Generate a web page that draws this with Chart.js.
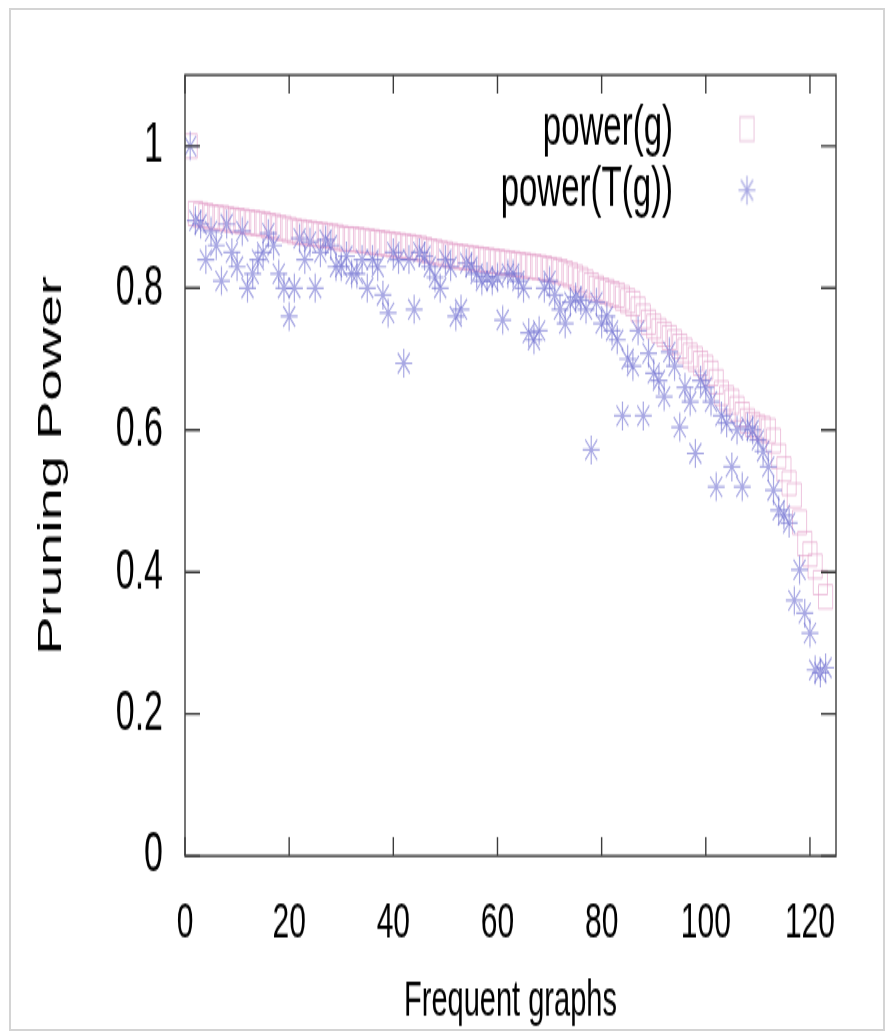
<!DOCTYPE html>
<html>
<head>
<meta charset="utf-8">
<script src="https://cdn.jsdelivr.net/npm/chart.js@4"></script>
<style>
    body { margin: 0; background: #fff; overflow: hidden; }
    #frame { position: absolute; left: 9px; top: 8px; width: 872px; height: 1019px; border: 2px solid #d4d4d4; }
    /* the source figure is stretched vertically, so the canvas is too */
    #wrap { position: absolute; left: 0; top: 0; width: 887px; height: 606px; transform: scaleY(1.7013); transform-origin: 0 0; }
</style>
</head>
<body>
<div id="frame"></div>
<div id="wrap"><canvas id="pruneChart" width="887" height="606"></canvas></div>
<script>
// power(g), one value per frequent graph (sorted)
const powerG = [
    1.00,
    0.905, 0.903, 0.902, 0.900, 0.899, 0.899, 0.897, 0.896, 0.895,
    0.894, 0.893, 0.892, 0.891, 0.890, 0.888, 0.887, 0.885, 0.884, 0.882,
    0.880, 0.879, 0.878, 0.877, 0.876, 0.875, 0.874, 0.873, 0.872, 0.870,
    0.869, 0.869, 0.868, 0.867, 0.866, 0.865, 0.864, 0.863, 0.862, 0.861,
    0.860, 0.859, 0.858, 0.857, 0.856, 0.854, 0.852, 0.851, 0.849, 0.848,
    0.846, 0.845, 0.844, 0.843, 0.842, 0.841, 0.840, 0.839, 0.838, 0.837,
    0.836, 0.835, 0.834, 0.833, 0.832, 0.831, 0.830, 0.829, 0.828, 0.826,
    0.825, 0.823, 0.821, 0.818, 0.815, 0.812, 0.808, 0.804, 0.800, 0.797,
    0.795, 0.792, 0.790, 0.786, 0.782, 0.778, 0.770, 0.760, 0.752, 0.746,
    0.740, 0.735, 0.730, 0.724, 0.718, 0.712, 0.705, 0.700, 0.694, 0.688,
    0.680, 0.668, 0.652, 0.645, 0.640, 0.630, 0.622, 0.613, 0.608, 0.604,
    0.602, 0.599, 0.585, 0.563, 0.545, 0.525, 0.508, 0.470, 0.440, 0.425,
    0.408, 0.385, 0.365
];
// power(T(g)) for the same graphs
const powerTG = [
    1.00,
    0.895, 0.890, 0.840, 0.880, 0.860, 0.810, 0.890, 0.850, 0.830,
    0.880, 0.800, 0.820, 0.840, 0.850, 0.877, 0.860, 0.820, 0.800, 0.760,
    0.800, 0.870, 0.840, 0.865, 0.800, 0.850, 0.868, 0.860, 0.830, 0.830,
    0.845, 0.820, 0.820, 0.840, 0.800, 0.840, 0.830, 0.790, 0.765, 0.850,
    0.840, 0.694, 0.840, 0.770, 0.850, 0.845, 0.830, 0.815, 0.800, 0.840,
    0.830, 0.760, 0.770, 0.835, 0.830, 0.820, 0.810, 0.816, 0.810, 0.815,
    0.755, 0.820, 0.820, 0.810, 0.800, 0.737, 0.727, 0.740, 0.800, 0.810,
    0.790, 0.770, 0.750, 0.780, 0.787, 0.783, 0.770, 0.572, 0.780, 0.750,
    0.760, 0.740, 0.727, 0.620, 0.700, 0.690, 0.740, 0.620, 0.708, 0.680,
    0.670, 0.647, 0.710, 0.690, 0.604, 0.660, 0.640, 0.567, 0.670, 0.660,
    0.640, 0.520, 0.620, 0.610, 0.548, 0.600, 0.520, 0.604, 0.600, 0.586,
    0.570, 0.548, 0.515, 0.487, 0.480, 0.469, 0.360, 0.403, 0.342, 0.314,
    0.262, 0.258, 0.265
];
const seriesNames = ['power(g)', 'power(T(g))'];
const xTicks = [0, 20, 40, 60, 80, 100, 120];
const yTicks = [0, 0.2, 0.4, 0.6, 0.8, 1];

const SANS = '"Liberation Sans", Arial, sans-serif';
const squareColor = 'rgba(226,158,200,0.6)';
const starColor = 'rgba(110,110,208,0.6)';

// graph number on the x axis
const toPoints = values => values.map((v, i) => ({x: i + 1, y: v}));

// little canvases used as legend samples
const makeMarker = (style, radius, color) => {
    const c = document.createElement('canvas');
    c.width = c.height = Math.ceil(radius * 2 + 4);
    const g = c.getContext('2d');
    g.strokeStyle = color;
    g.fillStyle = 'rgba(0,0,0,0)';
    g.lineWidth = 1.2;
    Chart.helpers.drawPoint(g, {pointStyle: style, radius: radius, borderWidth: 1.2}, c.width / 2, c.height / 2);
    return c;
};

// gnuplot-like frame with inward ticks on all four sides
const frameTicks = {
    id: 'frameTicks',
    afterDatasetsDraw(chart) {
        const {ctx, chartArea: a, scales: {x, y}} = chart;
        ctx.save();
        ctx.strokeStyle = '#3c3c3c';
        ctx.lineWidth = 1.4;
        ctx.strokeRect(a.left, a.top, a.width, a.height);
        ctx.beginPath();
        x.ticks.forEach(t => {
            const px = x.getPixelForValue(t.value);
            ctx.moveTo(px, a.bottom); ctx.lineTo(px, a.bottom - 11);
            ctx.moveTo(px, a.top); ctx.lineTo(px, a.top + 11);
        });
        y.ticks.forEach(t => {
            const py = y.getPixelForValue(t.value);
            ctx.moveTo(a.left, py); ctx.lineTo(a.left + 15, py);
            ctx.moveTo(a.right, py); ctx.lineTo(a.right - 15, py);
        });
        ctx.stroke();
        ctx.restore();
    }
};

// move the legend to the top right corner inside the plot
const legendInside = {
    id: 'legendInside',
    afterLayout(chart) {
        const lg = chart.legend;
        const right = chart.chartArea.right - 28.5;
        lg.left = right - lg.width;
        lg.right = right;
        lg.top = chart.chartArea.top + 12.2;
        lg.bottom = lg.top + lg.height;
    }
};

window.onload = () => {
    const legendMarks = [makeMarker('rect', 10, 'rgba(226,175,208,0.6)'), makeMarker('star', 8.5, starColor)];
    const ctx = document.getElementById('pruneChart').getContext('2d');
    new Chart(ctx, {
        type: 'scatter',
        data: {
            datasets: [{
                label: seriesNames[0],
                data: toPoints(powerG),
                pointStyle: 'rect',
                pointRadius: 10,
                borderColor: squareColor,
                backgroundColor: 'transparent',
                borderWidth: 1,
                order: 1
            }, {
                label: seriesNames[1],
                data: toPoints(powerTG),
                pointStyle: 'star',
                pointRadius: 8.5,
                borderColor: starColor,
                backgroundColor: 'transparent',
                borderWidth: 1.2,
                order: 0
            }]
        },
        options: {
            responsive: false,
            animation: false,
            layout: {padding: {top: 44.1, right: 51, bottom: 0, left: 0}},
            scales: {
                x: {
                    type: 'linear',
                    min: 0,
                    max: 125,
                    afterFit: s => { s.height = 102.9; },
                    afterBuildTicks: s => { s.ticks = xTicks.map(v => ({value: v})); },
                    grid: {display: false, drawTicks: false},
                    border: {display: false},
                    ticks: {color: '#000', padding: 22, font: {family: SANS, size: 30}, maxRotation: 0},
                    title: {display: true, text: 'Frequent graphs', color: '#000', font: {family: SANS, size: 29}, padding: {top: 0, bottom: 0}}
                },
                y: {
                    min: 0,
                    max: 1.1,
                    afterFit: s => { s.width = 185; },
                    afterBuildTicks: s => { s.ticks = yTicks.map(v => ({value: v})); },
                    grid: {display: false, drawTicks: false},
                    border: {display: false},
                    ticks: {color: '#000', padding: 22, font: {family: SANS, size: 34}, callback: v => String(Number(v.toFixed(1)))},
                    title: {display: true, text: 'Pruning Power', color: '#000', font: {family: SANS, size: 34}, padding: {top: 31, bottom: 0}}
                }
            },
            plugins: {
                tooltip: {enabled: false},
                legend: {
                    position: 'chartArea',
                    align: 'start',
                    rtl: true,
                    textDirection: 'ltr',
                    labels: {
                        usePointStyle: true,
                        pointStyleWidth: 115,
                        padding: 3,
                        color: '#000',
                        font: {family: SANS, size: 33},
                        generateLabels: chart => chart.data.datasets.map((ds, i) => ({
                            text: ds.label,
                            datasetIndex: i,
                            pointStyle: legendMarks[i],
                            textAlign: 'left',
                            fontColor: '#000',
                            lineWidth: 0,
                            hidden: false
                        }))
                    }
                }
            }
        },
        plugins: [frameTicks, legendInside]
    });
};
</script>
</body>
</html>
